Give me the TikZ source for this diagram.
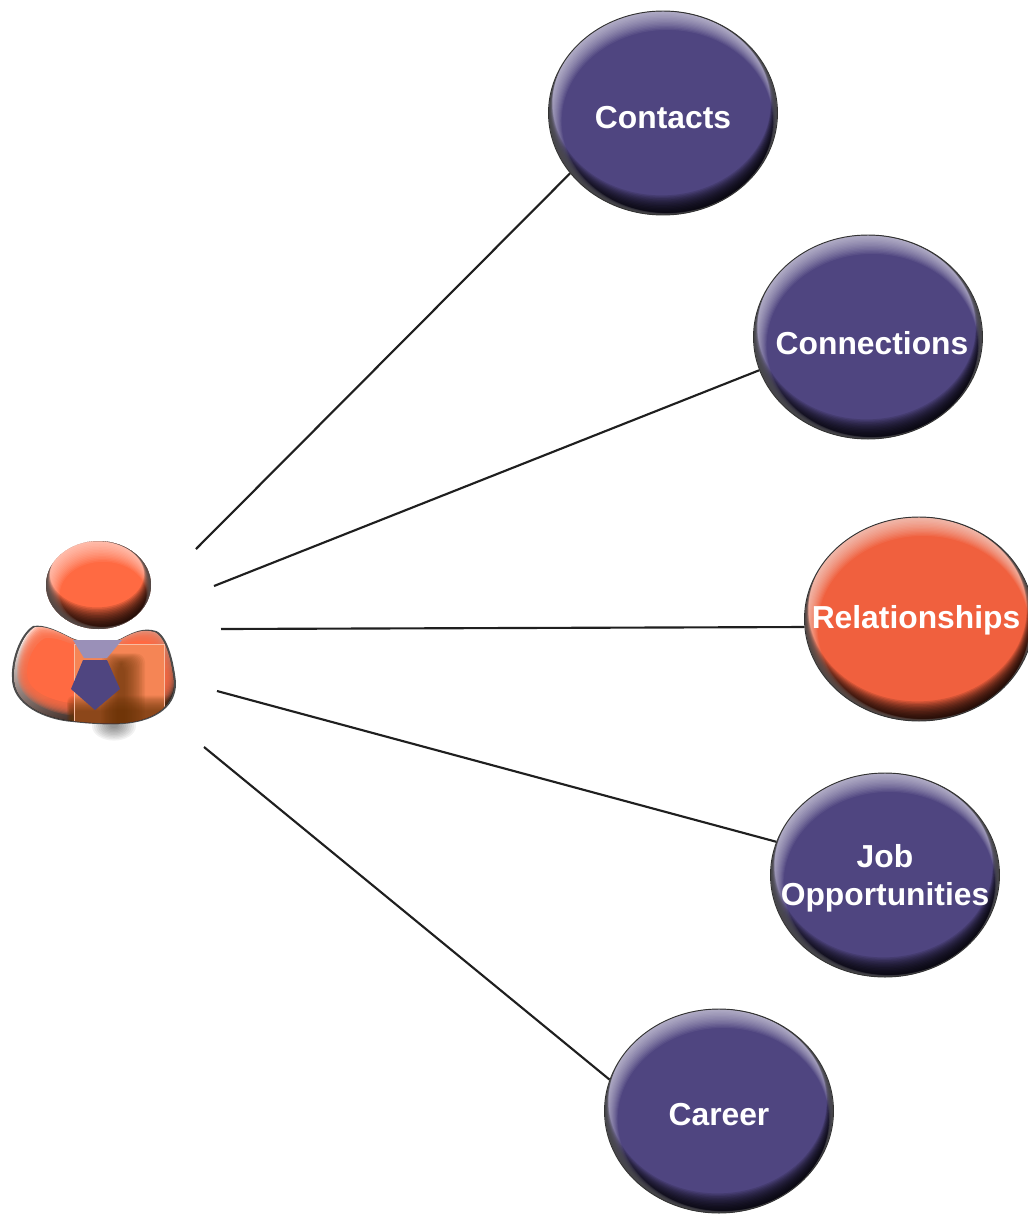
\documentclass[tikz,border=0pt]{standalone}
\usepackage{fontspec}
\setmainfont{Liberation Sans}
\definecolor{ballpurple}{HTML}{4F4580}
\definecolor{ballorange}{HTML}{F0603E}
\definecolor{personorange}{HTML}{FF6A42}
\definecolor{personlight}{HTML}{FFF2EE}
\definecolor{persondark}{HTML}{1E0A04}
\definecolor{panelorange}{HTML}{F58555}
\definecolor{panelbrown}{HTML}{6A3408}
\definecolor{knotpurple}{HTML}{9A90B8}
\tikzset{
  x=0.75pt,y=-0.75pt,
  ballnode/.style={ellipse,draw=black!80,line width=0.7pt,inner sep=0pt,
    minimum width=171.75pt,minimum height=153pt,text=white,align=center,
    font=\fontsize{23.85}{28}\selectfont\bfseries},
  linkline/.style={line width=1.6pt,draw=black!88},
}
\usetikzlibrary{shapes.geometric}
% x, y, x radius, y radius, base colour, bevel width factor
\newcommand{\bevelfill}[6]{%
  \begin{scope}
    \clip (#1,#2) circle [x radius=#3,y radius=#4];
    \fill[#5] (#1-#3-4,#2-#4-4) rectangle (#1+#3+4,#2+#4+4);
    \foreach \k in {1,...,14}{
      \fill[white,opacity=0.06,even odd rule]
        (#1-#3-4,#2-#4-4) rectangle (#1+#3+4,#2+#4+4)
        (#1+0.3*\k*#6,#2+0.6*\k*#6) circle [x radius=#3-0.6*\k*#6,y radius=#4-0.75*\k*#6];
      \fill[black,opacity=0.12,even odd rule]
        (#1-#3-4,#2-#4-4) rectangle (#1+#3+4,#2+#4+4)
        (#1-0.1*\k*#6,#2-0.7*\k*#6) circle [x radius=#3-0.35*\k*#6,y radius=#4-0.7*\k*#6];
    }
  \end{scope}
}
% name, x, y, base, text x shift (pt), text drop (pt), text
\newcommand{\bevelball}[7]{%
  \bevelfill{#2}{#3}{114}{102}{#4}{1}
  \node[ballnode] (#1) at (#2,#3) {\makebox[0pt]{\hspace*{#5pt}\raisebox{-#6pt}[\height][\depth]{#7}}};
}
\newcommand{\bodyshape}{
  (72,638) .. controls (58,631) and (45,624) .. (33,626)
  .. controls (20,634) and (11,660) .. (12,677)
  .. controls (11,705) and (45,720) .. (73,722)
  .. controls (90,724) and (110,725) .. (123,724)
  .. controls (150,722) and (177,710) .. (176,682)
  .. controls (173,655) and (165,630) .. (152,630)
  .. controls (140,628) and (130,634) .. (122,638)
  .. controls (112,644) and (85,644) .. (72,638) -- cycle}
\begin{document}
\begin{tikzpicture}
\useasboundingbox (0,0) rectangle (1028,1214);
% balls
\bevelball{contacts}{663}{113}{ballpurple}{0}{3.6}{Contacts}
\bevelball{connections}{868}{337}{ballpurple}{6}{4.5}{Connections}
\bevelball{relationships}{919}{619}{ballorange}{-4.5}{0.7}{Relationships}
\bevelball{job}{885}{875}{ballpurple}{0}{3}{\begin{tabular}{@{}c@{}}Job\\Opportunities\end{tabular}}
\bevelball{career}{719}{1111}{ballpurple}{0}{3}{Career}
% connector free ends at the person
\coordinate (p1) at (196,549);
\coordinate (p2) at (214,586);
\coordinate (p3) at (221,629);
\coordinate (p4) at (217,691);
\coordinate (p5) at (204,747);
\draw[linkline] (p1) -- (contacts.213.5);
\draw[linkline] (p2) -- (connections.197.6);
\draw[linkline] (p3) -- (relationships.184);
\draw[linkline] (p4) -- (job.163.8);
\draw[linkline] (p5) -- (career.164.3);
% person: head
\bevelfill{98.5}{585}{52.5}{44}{personorange}{1.1}
% person: cast shadow
\foreach \k in {1,...,10}{
  \fill[black,opacity=0.05] (114,726) circle [x radius=24-\k*2,y radius=16-\k*1.4];
}
% person: body
\fill[black!70] \bodyshape;
\begin{scope}[shift={(94,677)},scale=0.975,shift={(-94,-677)}]
\clip \bodyshape;
\fill[top color=personlight,middle color=personorange,bottom color=persondark,shading angle=14] (5,622) rectangle (180,728);
\foreach \k in {1,...,9}{
  \begin{scope}[shift={(96,673)},xscale=1-\k*0.013,yscale=1-\k*0.028,shift={(-94,-677)}]
    \fill[personorange,opacity=0.22] \bodyshape;
  \end{scope}
}
\begin{scope}[shift={(96,673)},xscale=0.86,yscale=0.7,shift={(-94,-677)}]
  \fill[personorange] \bodyshape;
\end{scope}
% translucent panel
\fill[panelorange] (74,643) rectangle (166,726);
\foreach \k in {1,...,14}{
  \fill[panelbrown,opacity=0.085,rounded corners=7pt]
    (100+\k*1.3,652+\k*0.8) rectangle (148-\k*1.6,740);
  \fill[panelbrown,opacity=0.085,rounded corners=5pt]
    (66+\k*0.4,695+\k*1.2) rectangle (176-\k*0.6,740);
}
\draw[white!45!panelorange,line width=0.5pt] (74,643) rectangle (166,726);
\end{scope}
% necktie
\fill[knotpurple] (73,640) -- (122,640) -- (107,658) -- (84,658) -- cycle;
\fill[ballpurple] (83,660) -- (107,660) -- (120,689) -- (95,710) -- (71,689) -- cycle;
\end{tikzpicture}
\end{document}
